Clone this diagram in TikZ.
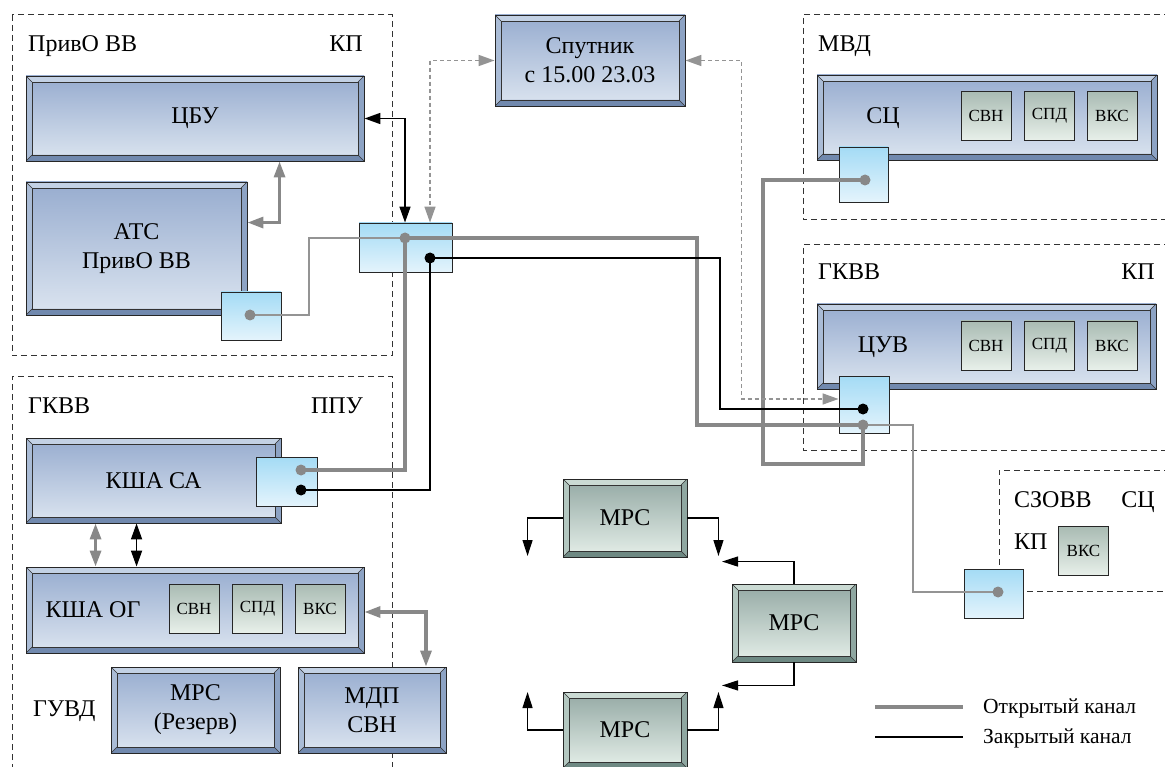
\documentclass[tikz,border=0pt]{standalone}
\usepackage{fontspec}
\setmainfont{Liberation Serif}
\newfontfamily\serf{Liberation Serif}
\usetikzlibrary{arrows.meta,calc}

\newcommand\fbig{\serf\fontsize{24}{29}\selectfont}
\newcommand\fsmall{\serf\fontsize{17}{20}\selectfont}
\newcommand\fleg{\serf\fontsize{21.5}{25}\selectfont}

\definecolor{bT}{HTML}{97ACCF}
\definecolor{bB}{HTML}{DCE5F0}
\definecolor{bvT}{HTML}{C3D1E4}
\definecolor{bvL}{HTML}{AABCD6}
\definecolor{bvR}{HTML}{8DA3C4}
\definecolor{bvB}{HTML}{7189AE}
\definecolor{gT}{HTML}{94A9A4}
\definecolor{gB}{HTML}{E5EFE9}
\definecolor{gvT}{HTML}{CADAD3}
\definecolor{gvL}{HTML}{B3C7C0}
\definecolor{gvR}{HTML}{8FA7A1}
\definecolor{gvB}{HTML}{6E8983}
\definecolor{sT}{HTML}{A9BBB3}
\definecolor{sB}{HTML}{E8F0EA}
\definecolor{pT}{HTML}{A4DBF5}
\definecolor{pB}{HTML}{E4F4FC}
\definecolor{cg}{HTML}{888888}

\newcommand\bevelpic[4]{%
  \path (path picture bounding box.north west) coordinate (bNW);
  \path (path picture bounding box.north east) coordinate (bNE);
  \path (path picture bounding box.south west) coordinate (bSW);
  \path (path picture bounding box.south east) coordinate (bSE);
  \path ([shift={(6pt,-6pt)}]bNW) coordinate (iNW);
  \path ([shift={(-6pt,-6pt)}]bNE) coordinate (iNE);
  \path ([shift={(6pt,6pt)}]bSW) coordinate (iSW);
  \path ([shift={(-6pt,6pt)}]bSE) coordinate (iSE);
  \fill[#1] (bNW) -- (bNE) -- (iNE) -- (iNW) -- cycle;
  \fill[#2] (bNW) -- (iNW) -- (iSW) -- (bSW) -- cycle;
  \fill[#3] (bNE) -- (bSE) -- (iSE) -- (iNE) -- cycle;
  \fill[#4] (bSW) -- (iSW) -- (iSE) -- (bSE) -- cycle;
  \draw[black!80, line width=0.7pt] (iNW) rectangle (iSE);
  \draw[black!80, line width=0.5pt] (bNW) -- (iNW) (bNE) -- (iNE) (bSW) -- (iSW) (bSE) -- (iSE);
}

\tikzset{
  bbox/.style={draw=black!85, line width=0.9pt, inner sep=0pt, align=center, font=\fbig,
    top color=bT, bottom color=bB, path picture={\bevelpic{bvT}{bvL}{bvR}{bvB}}},
  gbox/.style={draw=black!85, line width=0.9pt, inner sep=0pt, align=center, font=\fbig,
    top color=gT, bottom color=gB, path picture={\bevelpic{gvT}{gvL}{gvR}{gvB}},
    minimum width=124pt, minimum height=78pt},
  sbox/.style={draw=black!85, line width=0.9pt, inner sep=0pt, font=\fsmall,
    top color=sT, bottom color=sB, minimum width=50pt, minimum height=49pt},
  pbox/.style={draw=black!85, line width=0.9pt, inner sep=0pt, top color=pT, bottom color=pB},
  lbl/.style={inner sep=0pt, font=\fbig},
  region/.style={draw=black!80, line width=1pt, dash pattern=on 6pt off 4pt},
  openline/.style={draw=cg, line width=3.2pt},
  openthin/.style={draw=cg!90, line width=1.8pt},
  closedline/.style={draw=black, line width=1.7pt},
  mrsline/.style={draw=black, line width=1.3pt, -{Triangle[length=16pt,width=10pt]}},
  dashline/.style={draw=cg!90, line width=1.6pt, dash pattern=on 4pt off 3pt},
  twotip/.style={{Triangle[length=16pt,width=11pt]}-{Triangle[length=16pt,width=11pt]}},
  gdot/.style={circle, fill=cg, inner sep=0pt, minimum size=11pt},
  bdot/.style={circle, fill=black, inner sep=0pt, minimum size=11pt},
}

\begin{document}
\begin{tikzpicture}[x=1pt, y=-1pt]
\useasboundingbox (0,0) rectangle (1165,767);
\fill[white] (0,0) rectangle (1165,767);

% regions
\draw[region] (12,15) rectangle (392,356);
\draw[region] (12,770) -- (12,376) -- (392,376) -- (392,770);
\draw[region] (1170,15) -- (803,15) -- (803,220) -- (1170,220);
\draw[region] (1170,245) -- (803,245) -- (803,450) -- (1170,450);
\draw[region] (1170,470) -- (999,470) -- (999,591) -- (1170,591);

% region labels
\node[lbl, anchor=base west] (t1) at (28,52) {ПривО ВВ};
\node[lbl, anchor=base east] (t2) at (363,52) {КП};
\node[lbl, anchor=base west] (t3) at (818,52) {МВД};
\node[lbl, anchor=base west] (t4) at (818,280) {ГКВВ};
\node[lbl, anchor=base east] (t5) at (1155,280) {КП};
\node[lbl, anchor=base west] (t6) at (1014,507) {СЗОВВ};
\node[lbl, anchor=base east] (t7) at (1155,507) {СЦ};
\node[lbl, anchor=base west] (t8) at (1014,549) {КП};
\node[lbl, anchor=base west] (t9) at (28,413) {ГКВВ};
\node[lbl, anchor=base east] (t10) at (363,413) {ППУ};
\node[lbl, anchor=base west] (t11) at (33,716) {ГУВД};

% blue boxes
\node[bbox, minimum width=338pt, minimum height=85pt] (cbu) at (195,118.5) {ЦБУ};
\node[bbox, minimum width=221pt, minimum height=133pt] (ats) at (136.5,248.5) {АТС\\ПривО ВВ};
\node[bbox, minimum width=190pt, minimum height=91pt] (sat) at (590,60.5) {Спутник\\с 15.00 23.03};
\node[bbox, minimum width=340pt, minimum height=85pt] (sc) at (987,117.5) {};
\node[bbox, minimum width=339pt, minimum height=85pt] (cuv) at (986.5,346.5) {};
\node[bbox, minimum width=255pt, minimum height=85pt] (ksa) at (153.5,480.5) {КША СА};
\node[bbox, minimum width=338pt, minimum height=86pt] (kog) at (195,610) {};
\node[bbox, minimum width=169pt, minimum height=86pt] (mrsr) at (195.5,710) {МРС\\(Резерв)};
\node[bbox, minimum width=148pt, minimum height=86pt] (mdp) at (372,710) {МДП\\СВН};

\node[lbl] (sct) at (883,118) {СЦ};
\node[lbl] (cuvt) at (883,347) {ЦУВ};
\node[lbl] (kogt) at (93,610) {КША ОГ};

% small boxes
\node[sbox] (scs) at (986,116) {СВН};
\node[sbox] (scp) at (1049.5,116) {СПД};
\node[sbox] (scv) at (1112,116) {ВКС};
\node[sbox] (cus) at (986,345.5) {СВН};
\node[sbox] (cup) at (1049.5,345.5) {СПД};
\node[sbox] (cuk) at (1112,345.5) {ВКС};
\node[sbox] (kos) at (194,608.5) {СВН};
\node[sbox] (kop) at (257.5,608.5) {СПД};
\node[sbox] (kov) at (320,608.5) {ВКС};
\node[sbox] (szv) at (1083.5,551) {ВКС};

% green boxes
\node[gbox] (mrs1) at (625,518) {МРС};
\node[gbox] (mrs2) at (794,623) {МРС};
\node[gbox, minimum height=76pt] (mrs3) at (625,730) {МРС};

% ports
\node[pbox, minimum width=93pt, minimum height=49pt] (hub) at (405.5,247.5) {};
\node[pbox, minimum width=60pt, minimum height=48pt] (atsp) at (251,316) {};
\node[pbox, minimum width=49pt, minimum height=55pt] (mvdp) at (863.5,174.5) {};
\node[pbox, minimum width=50pt, minimum height=57pt] (cuvp) at (864,404.5) {};
\node[pbox, minimum width=59pt, minimum height=49pt] (szp) at (993.5,593.5) {};
\node[pbox, minimum width=61pt, minimum height=49pt] (ksap) at (286.5,481.5) {};

% dot positions
\coordinate (hubG) at (405,238);
\coordinate (hubB) at (430,258);
\coordinate (atsG) at (250,315);
\coordinate (mvdG) at (865,180);
\coordinate (cuvB) at (863,409);
\coordinate (cuvG) at (863,425);
\coordinate (szG) at (998,592);
\coordinate (ksG) at (301,470);
\coordinate (ksB) at (301,490);

% channels
\draw[openthin] (atsG) -- ++(59,0) |- (hubG);
\draw[openthin] (cuvG) -- ++(50,0) |- (szG);
\draw[openline] (hubG) -- ++(292,0) |- (cuvG);
\draw[openline] (hubG) |- (ksG);
\draw[openline] (mvdG) -- ++(-102,0) -- ++(0,284) -| (cuvG);
\draw[closedline] (hubB) -- ++(290,0) |- (cuvB);
\draw[closedline] (hubB) |- (ksB);

% arrows
\draw[closedline, twotip] (cbu.east) -| (hubG |- hub.north);
\draw[dashline, twotip] (sat.west) -| (hubB |- hub.north);
\draw[dashline, twotip] (sat.east) -- ++(56,0) |- ($(cuvp.west)+(0,-5.5)$);
\draw[openline, twotip] ($(cbu.south west)+(254,0)$) |- ($(ats.north east)+(0,41)$);
\draw[openline, twotip] ($(ksa.south west)+(70,0)$) -- ($(kog.north west)+(70,0)$);
\draw[closedline, twotip] ($(ksa.south west)+(111,0)$) -- ($(kog.north west)+(111,0)$);
\draw[openline, twotip] ($(kog.east)+(0,2)$) -| ($(mdp.north)+(54,0)$);

\draw[mrsline] (mrs1.west) -- ++(-35,0) -- ++(0,38);
\draw[mrsline] (mrs1.east) -- ++(31,0) -- ++(0,38);
\draw[mrsline] (mrs2.north) -- ++(0,-22) -- ++(-72,0);
\draw[mrsline] (mrs2.south) -- ++(0,23) -- ++(-72,0);
\draw[mrsline] (mrs3.west) -- ++(-35,0) -- ++(0,-38);
\draw[mrsline] (mrs3.east) -- ++(31,0) -- ++(0,-38);

% dots
\node[gdot] (dHubG) at (hubG) {};
\node[bdot] (dHubB) at (hubB) {};
\node[gdot] (dAtsG) at (atsG) {};
\node[gdot] (dMvdG) at (mvdG) {};
\node[bdot] (dCuvB) at (cuvB) {};
\node[gdot] (dCuvG) at (cuvG) {};
\node[gdot] (dSzG) at (szG) {};
\node[gdot] (dKsG) at (ksG) {};
\node[bdot] (dKsB) at (ksB) {};

% legend
\coordinate (l1a) at (875,707);
\coordinate (l1b) at (963,707);
\coordinate (l2a) at (875,737);
\coordinate (l2b) at (963,737);
\draw[openline] (l1a) -- (l1b);
\draw[closedline] (l2a) -- (l2b);
\node[inner sep=0pt, font=\fleg, anchor=base west] (leg1) at (983,713) {Открытый канал};
\node[inner sep=0pt, font=\fleg, anchor=base west] (leg2) at (983,743) {Закрытый канал};
\end{tikzpicture}
\end{document}
